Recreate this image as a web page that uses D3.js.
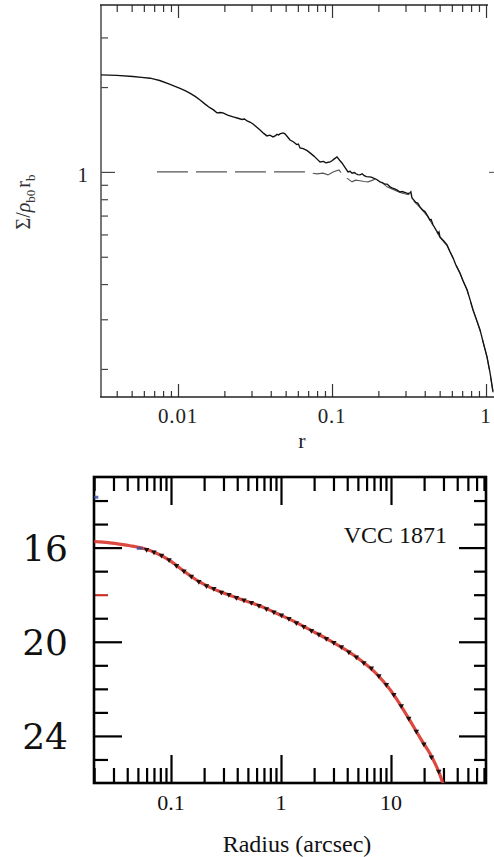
<!DOCTYPE html>
<html>
<head>
<meta charset="utf-8">
<script src="https://cdn.jsdelivr.net/npm/d3@7"></script>
<style>
  html, body { margin: 0; padding: 0; background: #fff; }
  svg { display: block; }
</style>
</head>
<body>
<svg id="chart" width="494" height="857"></svg>
<script>
// ---- top panel data (r, Sigma / rho_b0 r_b) ----
const solidR = [0.00316, 0.0040, 0.0051, 0.0058, 0.0066, 0.0071, 0.0076, 0.0088, 0.0103, 0.0112,
  0.0120, 0.0130, 0.0139, 0.0150, 0.0161, 0.0170, 0.0179, 0.0188, 0.0196, 0.0210,
  0.0228, 0.0245, 0.0260, 0.0270, 0.0281, 0.0295, 0.0307, 0.0325, 0.0341, 0.0360,
  0.0378, 0.0395, 0.0414, 0.0430, 0.0440, 0.0450, 0.0459, 0.0481, 0.0495, 0.0515,
  0.0534, 0.0560, 0.0590, 0.0605, 0.0620, 0.0650, 0.0690, 0.0720, 0.0760, 0.0800,
  0.0836, 0.0880, 0.0910, 0.0930, 0.0971, 0.1000, 0.1030, 0.1077, 0.1120, 0.1161,
  0.1210, 0.1270, 0.1310, 0.1350, 0.1400, 0.1430, 0.1470, 0.1520, 0.1570, 0.1620,
  0.1670, 0.1740, 0.1800, 0.1845, 0.1950, 0.2049, 0.2130, 0.2200, 0.2280, 0.2380,
  0.2450, 0.2550, 0.2650, 0.2765, 0.2850, 0.3000, 0.3100, 0.3209, 0.3250, 0.3306,
  0.3500, 0.3600, 0.3725, 0.3900, 0.4000, 0.4138, 0.4330, 0.4400, 0.4526, 0.4750,
  0.4900, 0.4950, 0.5023, 0.5300, 0.5580, 0.5850, 0.6105, 0.6400, 0.6775, 0.7100,
  0.7534, 0.7900, 0.8241, 0.8700, 0.9145, 0.9600, 1.0146, 1.0600, 1.1100];
const solidVal = [2.21, 2.20, 2.18, 2.165, 2.15, 2.13, 2.11, 2.05, 1.98, 1.94,
  1.90, 1.85, 1.80, 1.74, 1.69, 1.66, 1.62, 1.625, 1.62, 1.59,
  1.567, 1.55, 1.535, 1.54, 1.516, 1.50, 1.479, 1.44, 1.409, 1.37,
  1.342, 1.35, 1.331, 1.345, 1.36, 1.352, 1.364, 1.375, 1.364, 1.33,
  1.298, 1.28, 1.25, 1.255, 1.216, 1.21, 1.19, 1.168, 1.14, 1.11,
  1.085, 1.09, 1.078, 1.08, 1.085, 1.095, 1.11, 1.13, 1.10, 1.076,
  1.04, 1.0, 1.005, 0.99, 0.995, 0.985, 0.978, 0.976, 0.985, 0.97,
  0.962, 0.96, 0.958, 0.952, 0.94, 0.922, 0.915, 0.905, 0.905, 0.885,
  0.878, 0.87, 0.862, 0.849, 0.852, 0.845, 0.838, 0.842, 0.85, 0.809,
  0.78, 0.775, 0.751, 0.73, 0.725, 0.704, 0.675, 0.678, 0.649, 0.62,
  0.605, 0.612, 0.588, 0.57, 0.551, 0.52, 0.496, 0.465, 0.438, 0.41,
  0.382, 0.35, 0.324, 0.298, 0.275, 0.248, 0.221, 0.195, 0.166];

const dashR = [0.0073, 0.012, 0.02, 0.03, 0.0474, 0.0558, 0.0689, 0.0745, 0.0800, 0.0874,
  0.0942, 0.1015, 0.1109, 0.1178, 0.1250, 0.1349, 0.1420, 0.1520, 0.1620, 0.1714,
  0.1840, 0.1960, 0.2100, 0.2276, 0.2450, 0.2765, 0.3000, 0.3209, 0.3306, 0.3500,
  0.3725, 0.4138, 0.4526, 0.5023, 0.5580, 0.6105, 0.6775, 0.7534, 0.8241, 0.9145,
  1.0146, 1.0600, 1.1100];
const dashVal = [1.0, 1.0, 1.0, 1.0, 1.0, 1.0, 1.0, 0.99, 0.984, 0.99,
  0.976, 1.0, 1.016, 0.976, 0.95, 0.922, 0.935, 0.93, 0.925, 0.922,
  0.935, 0.952, 0.92, 0.885, 0.87, 0.845, 0.835, 0.83, 0.80, 0.775,
  0.748, 0.70, 0.645, 0.585, 0.548, 0.494, 0.436, 0.38, 0.322, 0.274,
  0.22, 0.194, 0.165];

const topXLabels = [0.01, 0.1, 1];
const topYLabels = [1];

// ---- bottom panel data (radius arcsec, magnitude) ----
const fitR = [0.0200, 0.0212, 0.0279, 0.0350, 0.0424, 0.0556, 0.0746, 0.0979, 0.1208, 0.149,
  0.1837, 0.2264, 0.2972, 0.4239, 0.6053, 0.8459, 1.0, 1.207, 1.397, 1.954,
  2.788, 3.981, 5.56, 7.46, 9.79, 12.07, 14.88, 18.35, 22.6, 26.2, 29.1, 29.7];
const fitMag = [15.74, 15.75, 15.80, 15.86, 15.92, 16.03, 16.25, 16.55, 16.88, 17.19,
  17.47, 17.69, 17.92, 18.18, 18.43, 18.72, 18.88, 19.05, 19.2, 19.56,
  19.95, 20.38, 20.86, 21.38, 22.03, 22.66, 23.35, 24.07, 24.75, 25.35, 25.90, 26.03];

const obsR = [0.060, 0.070, 0.082, 0.096, 0.112, 0.131, 0.153, 0.179, 0.21, 0.245,
  0.287, 0.336, 0.393, 0.46, 0.538, 0.63, 0.737, 0.862, 1.01, 1.18,
  1.38, 1.61, 1.89, 2.21, 2.58, 3.02, 3.54, 4.14, 4.84, 5.66,
  6.63, 7.75, 9.07, 10.6, 12.4, 14.5, 17.0, 19.9, 23.3, 27.2];
const obsMag = [16.08, 16.19, 16.33, 16.52, 16.76, 17.0, 17.22, 17.44, 17.62, 17.74,
  17.9, 18.0, 18.12, 18.23, 18.34, 18.46, 18.6, 18.74, 18.87, 19.01,
  19.2, 19.35, 19.52, 19.68, 19.86, 20.03, 20.22, 20.44, 20.65, 20.89,
  21.12, 21.45, 21.82, 22.24, 22.72, 23.25, 23.8, 24.35, 24.9, 25.5];

const blueR = [0.0205, 0.052];
const blueMag = [13.86, 16.03];

const botXLabels = [0.1, 1, 10];
const botYLabels = [16, 20, 24];

// minor log ticks 2..9 per decade inside (lo, hi)
function minorLog(lo, hi) {
  let out = [];
  for (let e = Math.floor(Math.log10(lo)); e <= Math.ceil(Math.log10(hi)); e++) {
    for (let k = 2; k <= 9; k++) {
      let v = k * Math.pow(10, e);
      if (v > lo && v < hi) out.push(v);
    }
  }
  return out;
}

const svg = d3.select('#chart');

function tickAxis(g, axis, color, width) {
  g.call(axis);
  g.select('.domain').remove();
  g.selectAll('.tick line').attr('stroke', color).attr('stroke-width', width);
  g.selectAll('.tick text').remove();
}

// =======================
// TOP PANEL
// =======================
const xTop = d3.scaleLog().domain([0.003162, 1.289]).range([101, 503]);
const yTop = d3.scaleLog().domain([0.159, 3.91]).range([397, 5]);

const topG = svg.append('g');

const topMinorX = minorLog(0.003162, 1.289);
const topMinorY = [0.2, 0.3, 0.4, 0.5, 0.6, 0.7, 0.8, 0.9, 2, 3];

topG.append('g').attr('transform', 'translate(0,397)')
  .call(g => tickAxis(g, d3.axisBottom(xTop).tickValues(topXLabels).tickSize(-13), '#333', 1.2));
topG.append('g').attr('transform', 'translate(0,397)')
  .call(g => tickAxis(g, d3.axisBottom(xTop).tickValues(topMinorX).tickSize(-6), '#333', 1.2));
topG.append('g').attr('transform', 'translate(0,5)')
  .call(g => tickAxis(g, d3.axisTop(xTop).tickValues(topXLabels).tickSize(-13), '#333', 1.2));
topG.append('g').attr('transform', 'translate(0,5)')
  .call(g => tickAxis(g, d3.axisTop(xTop).tickValues(topMinorX).tickSize(-7), '#333', 1.2));
topG.append('g').attr('transform', 'translate(101,0)')
  .call(g => tickAxis(g, d3.axisLeft(yTop).tickValues(topYLabels).tickSize(-14), '#444', 1.2));
topG.append('g').attr('transform', 'translate(101,0)')
  .call(g => tickAxis(g, d3.axisLeft(yTop).tickValues(topMinorY).tickSize(-7), '#444', 1.2));
topG.append('g').attr('transform', 'translate(503,0)')
  .call(g => tickAxis(g, d3.axisRight(yTop).tickValues(topYLabels).tickSize(-14), '#666', 1.2));

// frame
topG.append('line').attr('x1', 101).attr('x2', 101).attr('y1', 5).attr('y2', 397)
  .attr('stroke', '#555').attr('stroke-width', 1.6);
topG.append('line').attr('x1', 100).attr('x2', 494).attr('y1', 397).attr('y2', 397)
  .attr('stroke', '#222').attr('stroke-width', 1.5);
topG.append('line').attr('x1', 100).attr('x2', 488).attr('y1', 5).attr('y2', 5)
  .attr('stroke', '#222').attr('stroke-width', 1.5);

const topLine = d3.line().x(d => xTop(d[0])).y(d => yTop(d[1]));

topG.append('path')
  .attr('d', topLine(d3.zip(dashR, dashVal)))
  .attr('fill', 'none').attr('stroke', '#555').attr('stroke-width', 1.1)
  .attr('stroke-dasharray', '31,8');

topG.append('path')
  .attr('d', topLine(d3.zip(solidR, solidVal)))
  .attr('fill', 'none').attr('stroke', '#111').attr('stroke-width', 1.35)
  .attr('stroke-linejoin', 'miter');

// labels
topG.selectAll('.xl').data(topXLabels).join('text')
  .attr('x', d => xTop(d)).attr('y', 423)
  .attr('text-anchor', 'middle')
  .attr('font-family', 'Liberation Serif').attr('font-size', 21).attr('fill', '#222')
  .attr('letter-spacing', 0.8)
  .text(d => d);

topG.selectAll('.yl').data(topYLabels).join('text')
  .attr('x', 88).attr('y', d => yTop(d) + 10)
  .attr('text-anchor', 'end')
  .attr('font-family', 'Liberation Serif').attr('font-size', 21).attr('fill', '#222')
  .text(d => d);

topG.append('text')
  .attr('x', 302).attr('y', 448)
  .attr('text-anchor', 'middle')
  .attr('font-family', 'Liberation Serif').attr('font-size', 22).attr('fill', '#222')
  .text('r');

const ylab = topG.append('text')
  .attr('transform', 'translate(30,202) rotate(-90)')
  .attr('text-anchor', 'middle')
  .attr('font-family', 'Liberation Serif').attr('font-size', 20).attr('fill', '#333');
ylab.append('tspan').text('Σ/');
ylab.append('tspan').attr('font-style', 'italic').text('ρ');
ylab.append('tspan').attr('font-size', 13).attr('dy', 5).text('b0');
ylab.append('tspan').attr('dy', -5).attr('dx', 2).text('r');
ylab.append('tspan').attr('font-size', 13).attr('dy', 5).text('b');

// =======================
// BOTTOM PANEL
// =======================
const xBot = d3.scaleLog().domain([0.01995, 73.07]).range([94, 486]);
const yBot = d3.scaleLinear().domain([13, 26]).range([477, 783]);

const botG = svg.append('g');

const botMinorX = minorLog(0.01995, 73.07);
const botMinorY = d3.range(14, 26).filter(v => !botYLabels.includes(v));

botG.append('g').attr('transform', 'translate(0,783)')
  .call(g => tickAxis(g, d3.axisBottom(xBot).tickValues(botXLabels).tickSize(-28), '#000', 2.2));
botG.append('g').attr('transform', 'translate(0,783)')
  .call(g => tickAxis(g, d3.axisBottom(xBot).tickValues(botMinorX).tickSize(-15), '#000', 2.2));
botG.append('g').attr('transform', 'translate(0,477)')
  .call(g => tickAxis(g, d3.axisTop(xBot).tickValues(botXLabels).tickSize(-28), '#000', 2.2));
botG.append('g').attr('transform', 'translate(0,477)')
  .call(g => tickAxis(g, d3.axisTop(xBot).tickValues(botMinorX).tickSize(-14), '#000', 2.2));
botG.append('g').attr('transform', 'translate(94,0)')
  .call(g => tickAxis(g, d3.axisLeft(yBot).tickValues(botYLabels).tickSize(-28), '#000', 2.2));
botG.append('g').attr('transform', 'translate(94,0)')
  .call(g => {
    tickAxis(g, d3.axisLeft(yBot).tickValues(botMinorY).tickSize(-14), '#000', 2.2);
    g.selectAll('.tick').filter(d => d === 18).select('line').attr('stroke', '#c8322c');
  });
botG.append('g').attr('transform', 'translate(486,0)')
  .call(g => tickAxis(g, d3.axisRight(yBot).tickValues(botYLabels).tickSize(-27), '#000', 2.2));
botG.append('g').attr('transform', 'translate(486,0)')
  .call(g => tickAxis(g, d3.axisRight(yBot).tickValues(botMinorY).tickSize(-12), '#000', 2.2));

botG.append('rect')
  .attr('x', 94).attr('y', 477).attr('width', 392).attr('height', 306)
  .attr('fill', 'none').attr('stroke', '#000').attr('stroke-width', 2.6);

botG.append('clipPath').attr('id', 'botclip')
  .append('rect').attr('x', 94).attr('y', 477).attr('width', 392).attr('height', 306);

const botLine = d3.line().x(d => xBot(d[0])).y(d => yBot(d[1])).curve(d3.curveCatmullRom.alpha(0.5));

const plotArea = botG.append('g').attr('clip-path', 'url(#botclip)');

plotArea.append('path')
  .attr('d', botLine(d3.zip(fitR, fitMag)))
  .attr('fill', 'none').attr('stroke', '#d8352b').attr('stroke-width', 3.2)
  .attr('stroke-opacity', 0.9);

plotArea.selectAll('.obs').data(d3.zip(obsR, obsMag)).join('path')
  .attr('d', d3.symbol().type(d3.symbolTriangle).size(13))
  .attr('transform', d => `translate(${xBot(d[0])},${yBot(d[1])}) rotate(180)`)
  .attr('fill', '#1c1010');

plotArea.selectAll('.blue').data(d3.zip(blueR, blueMag)).join('rect')
  .attr('x', d => xBot(d[0]) - 3).attr('y', d => yBot(d[1]) - 1.5)
  .attr('width', 6).attr('height', 3)
  .attr('fill', '#3a4a9a').attr('opacity', 0.8);

// labels
botG.selectAll('.bxl').data(botXLabels).join('text')
  .attr('x', d => xBot(d)).attr('y', 810)
  .attr('text-anchor', 'middle')
  .attr('font-family', 'Liberation Serif').attr('font-size', 22).attr('fill', '#111')
  .text(d => d);

botG.selectAll('.byl').data(botYLabels).join('text')
  .attr('x', 68).attr('y', d => yBot(d)).attr('dy', '0.37em')
  .attr('text-anchor', 'end')
  .attr('font-family', 'DejaVu Serif').attr('font-size', 36).attr('fill', '#111')
  .text(d => d);

botG.append('text')
  .attr('x', 447).attr('y', 543)
  .attr('text-anchor', 'end')
  .attr('font-family', 'Liberation Serif').attr('font-size', 24).attr('fill', '#111')
  .text('VCC 1871');

botG.append('text')
  .attr('x', 297).attr('y', 852)
  .attr('text-anchor', 'middle')
  .attr('font-family', 'Liberation Serif').attr('font-size', 24).attr('fill', '#111')
  .text('Radius (arcsec)');
</script>
</body>
</html>
